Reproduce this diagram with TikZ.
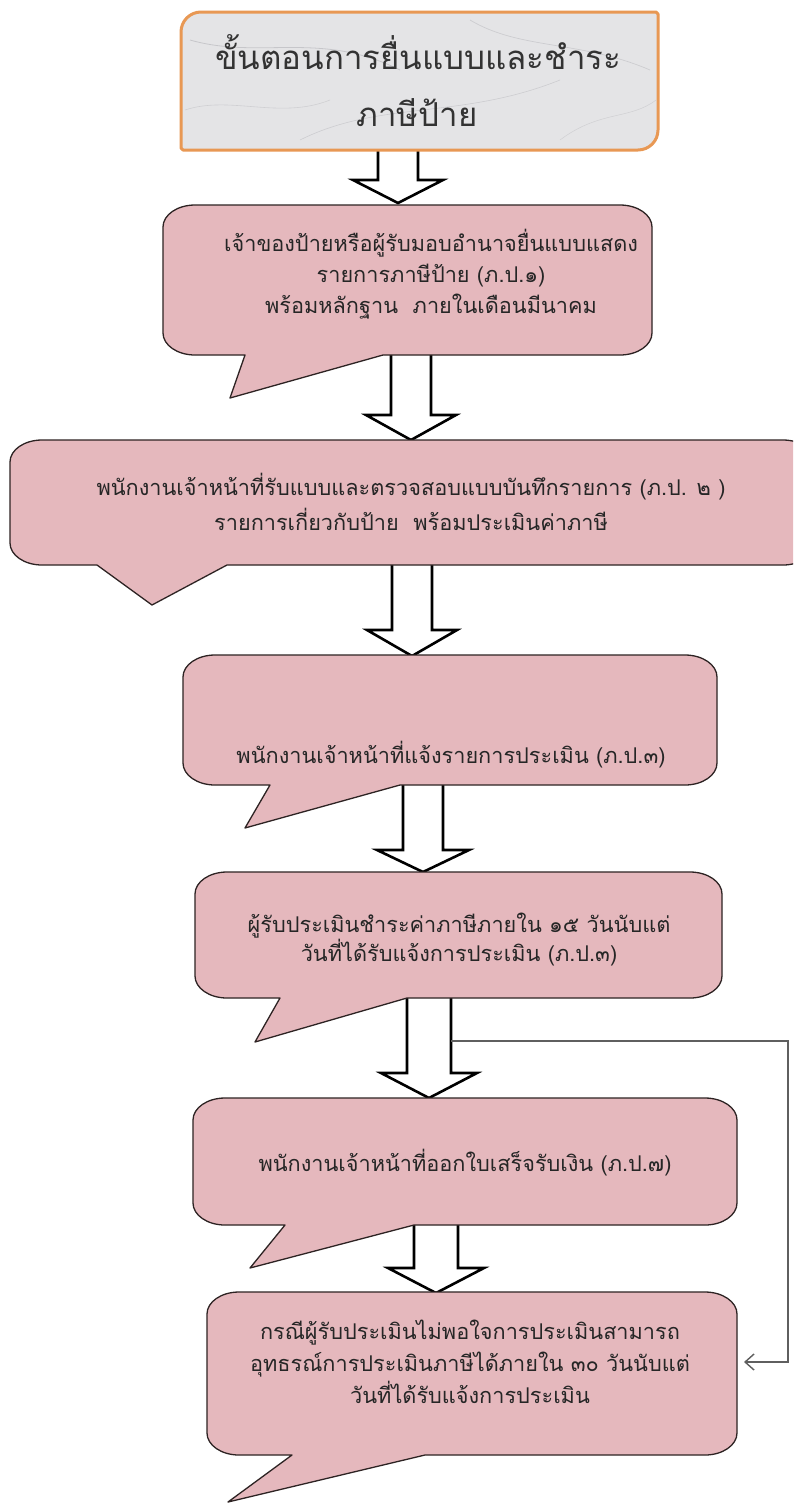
\documentclass[tikz,border=0pt]{standalone}
\usepackage{fontspec}
\newfontfamily\thai[Script=Thai]{Loma}
\usetikzlibrary{arrows.meta}
\definecolor{pinkfill}{RGB}{229,184,189}
\definecolor{boxline}{RGB}{45,35,35}
\definecolor{titleline}{RGB}{232,152,84}
\definecolor{marble}{RGB}{228,228,230}
\definecolor{vein}{RGB}{170,170,175}
\definecolor{fbline}{RGB}{95,95,95}
\tikzset{
  calloutbox/.style={fill=pinkfill, draw=boxline, line width=1.3pt, line join=round},
  titlebox/.style={fill=marble, draw=titleline, line width=3pt, line join=round},
  blockarr/.style={fill=white, draw=black, line width=2.6pt, line join=miter},
  boxtext/.style={font=\thai\fontsize{21.7}{31}\selectfont, align=center, text=black!85, inner sep=0pt},
  titletext/.style={font=\thai\fontsize{33}{61}\selectfont, text=black!80, inner sep=0pt},
  fb/.style={draw=fbline, line width=1.4pt, -{Straight Barb[length=9pt,width=16pt,line width=1.4pt]}}
}
% #1 x1, #2 y1, #3 x2, #4 y2, #5 tail left base, #6 tail right base, #7 tip x, #8 tip y
\newcommand{\calloutshape}[8]{%
  \path[calloutbox] (#7,#8) -- (#6,#4) -- ({#3-32},#4)
    arc[start angle=90,end angle=0,x radius=32,y radius=22] -- (#3,{#2+22})
    arc[start angle=0,end angle=-90,x radius=32,y radius=22] -- ({#1+32},#2)
    arc[start angle=-90,end angle=-180,x radius=32,y radius=22] -- (#1,{#4-22})
    arc[start angle=180,end angle=90,x radius=32,y radius=22] -- (#5,#4) -- cycle;}
% #1 cx, #2 top, #3 head base, #4 tip, #5 shaft half width, #6 head half width
\newcommand{\blockarrow}[6]{%
  \path[blockarr] ({#1-#5},#2) -- ({#1-#5},#3) -- ({#1-#6},#3) -- (#1,#4)
    -- ({#1+#6},#3) -- ({#1+#5},#3) -- ({#1+#5},#2);}
\begin{document}
\begin{tikzpicture}[x=1pt,y=-1pt]
\useasboundingbox (0,0) rectangle (793,1505);
\fill[white] (0,0) rectangle (793,1505);
\clip (0,0) rectangle (793,1505);

% block arrows
\blockarrow{398}{148}{180}{203}{20}{45}
\blockarrow{411}{352}{415}{440}{20}{45}
\blockarrow{412}{563}{630}{656}{20}{45}
\blockarrow{423}{781}{850}{872}{20}{46}
\blockarrow{429}{995}{1073}{1098}{22}{48}
\blockarrow{436}{1222}{1268}{1293}{22}{48}

% title
\path[titlebox] (201,12) -- (656,12) -- (658,14) -- (658,130)
  arc[start angle=0,end angle=90,x radius=20,y radius=20] -- (183,150) -- (181,148)
  -- (181,32) arc[start angle=180,end angle=270,x radius=20,y radius=20] -- cycle;
\begin{scope}
\clip (201,14) -- (656,14) -- (656,130) -- (638,148) -- (183,148) -- (183,32) -- cycle;
\draw[vein, line width=0.8pt, opacity=0.5] (190,40) .. controls (260,60) and (320,30) .. (400,70);
\draw[vein, line width=0.6pt, opacity=0.4] (300,140) .. controls (380,100) and (460,120) .. (560,80);
\draw[vein, line width=0.7pt, opacity=0.4] (470,20) .. controls (520,50) and (580,40) .. (650,70);
\draw[vein, line width=0.6pt, opacity=0.35] (185,110) .. controls (230,95) and (280,120) .. (330,100);
\draw[vein, line width=0.5pt, opacity=0.35] (560,140) .. controls (600,110) and (630,120) .. (656,100);
\end{scope}
\node[titletext] (title1) at (418,52) {ขั้นตอนการยื่นแบบและชำระ};
\node[titletext] (title2) at (417,113) {ภาษีป้าย};

% callout boxes
\calloutshape{163}{205}{652}{355}{245}{383}{230}{398}
\node[boxtext] (b1) at (431,274) {เจ้าของป้ายหรือผู้รับมอบอำนาจยื่นแบบแสดง\\รายการภาษีป้าย (ภ.ป.๑)\\พร้อมหลักฐาน\ \ ภายในเดือนมีนาคม};

\calloutshape{10}{440}{815}{565}{97}{227}{152}{605}
\node[boxtext, font=\thai\fontsize{21.7}{35}\selectfont] (b2) at (411,502) {พนักงานเจ้าหน้าที่รับแบบและตรวจสอบแบบบันทึกรายการ (ภ.ป. ๒ )\\รายการเกี่ยวกับป้าย\ \ พร้อมประเมินค่าภาษี};

\calloutshape{183}{655}{717}{785}{270}{400}{245}{828}
\node[boxtext] (b3) at (451,755) {พนักงานเจ้าหน้าที่แจ้งรายการประเมิน (ภ.ป.๓)};

\calloutshape{195}{872}{722}{998}{280}{407}{255}{1042}
\node[boxtext, font=\thai\fontsize{21.7}{27}\selectfont] (b4) at (459,940) {ผู้รับประเมินชำระค่าภาษีภายใน ๑๕ วันนับแต่\\วันที่ได้รับแจ้งการประเมิน (ภ.ป.๓)};

\calloutshape{193}{1098}{737}{1225}{285}{414}{250}{1268}
\node[boxtext] (b5) at (465,1163) {พนักงานเจ้าหน้าที่ออกใบเสร็จรับเงิน (ภ.ป.๗)};

\calloutshape{207}{1292}{737}{1455}{292}{425}{228}{1502}
\node[boxtext, font=\thai\fontsize{21.7}{32}\selectfont] (b6) at (470,1362) {กรณีผู้รับประเมินไม่พอใจการประเมินสามารถ\\อุทธรณ์การประเมินภาษีได้ภายใน ๓๐ วันนับแต่\\วันที่ได้รับแจ้งการประเมิน};

% feedback connector
\coordinate (fbstart) at (451,1041);
\coordinate (fbcorner) at (788,1041);
\coordinate (b6east) at (744,1362);
\draw[fb] (fbstart) -- (fbcorner) |- (b6east);
\end{tikzpicture}
\end{document}
